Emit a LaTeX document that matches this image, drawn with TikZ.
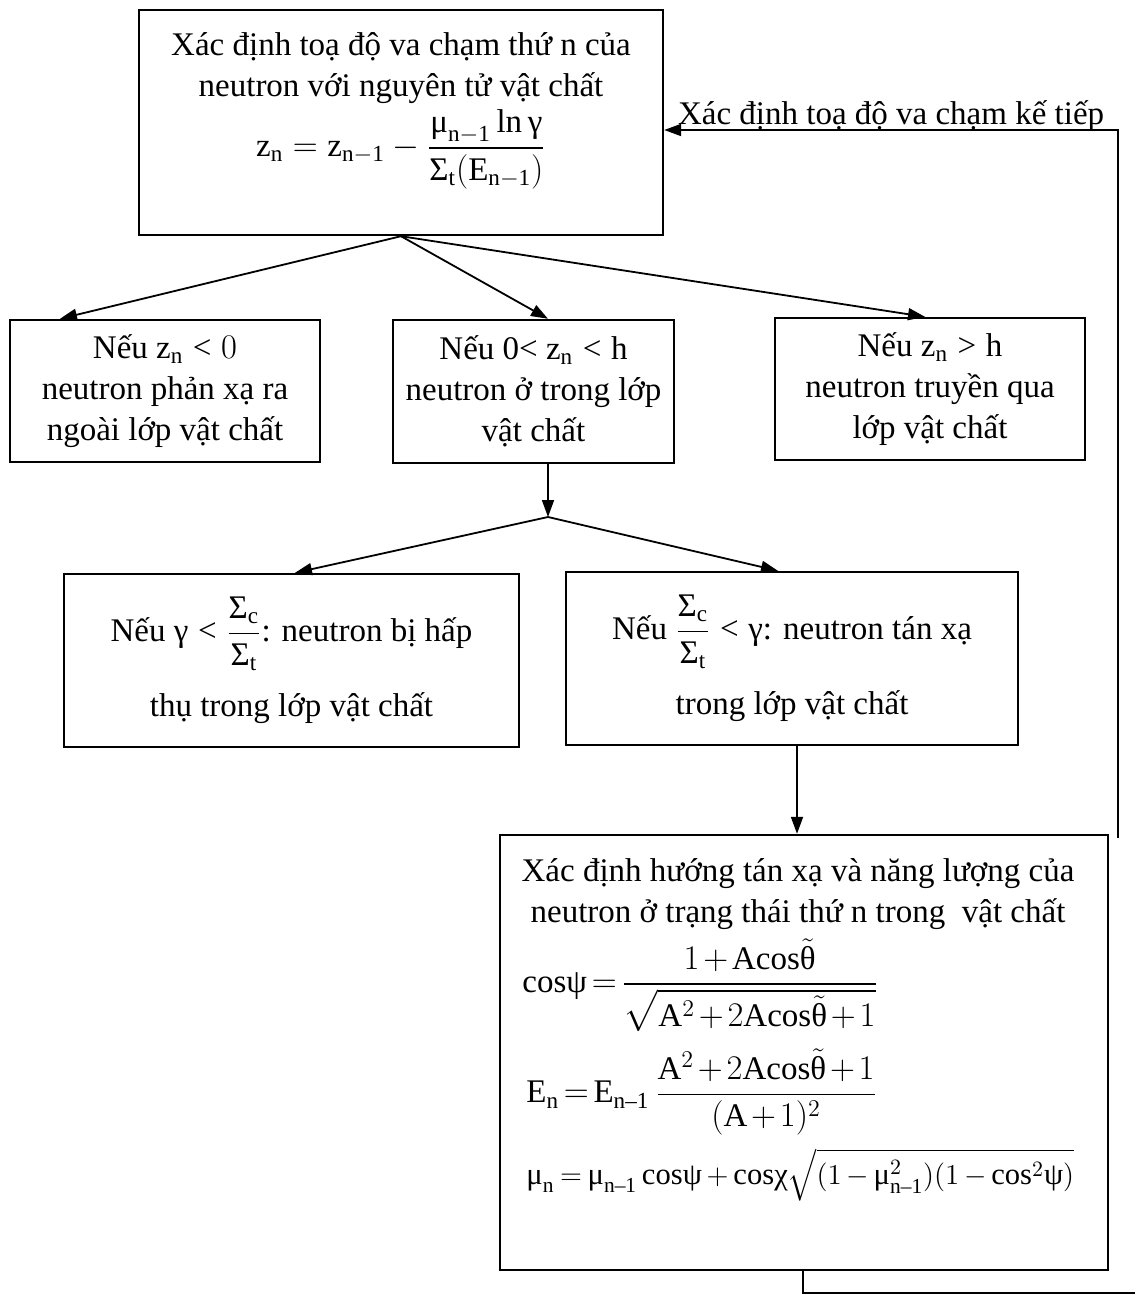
\documentclass[tikz,border=0pt]{standalone}
\usepackage{amsmath}
\usepackage{fontspec}
\setmainfont{Liberation Serif}
\usetikzlibrary{positioning,arrows.meta}

% digits, operators and relations taken from the text font
\DeclareSymbolFont{operators}{\encodingdefault}{\rmdefault}{m}{n}
\DeclareMathSymbol{<}{\mathrel}{operators}{`<}
\DeclareMathSymbol{>}{\mathrel}{operators}{`>}

% upright Greek taken from the text font
\newcommand{\gmu}{\text{μ}}
\newcommand{\ggam}{\text{γ}}
\newcommand{\gSig}{\text{Σ}}
\newcommand{\gpsi}{\text{ψ}}
\newcommand{\gchi}{\text{χ}}
\newcommand{\gth}{\text{θ}}
\newcommand{\tcos}{\mathrm{cos}}
\newcommand{\nmo}{\text{n–1}}

\begin{document}
\begin{tikzpicture}[x=0.5pt,y=-0.5pt]
  % Styles local to this figure.
  \tikzset{
    box/.style={draw,line width=1.2pt,align=center,inner sep=0pt,
      font=\fontsize{16.5}{20.5}\selectfont},
    txt/.style={inner sep=0pt,font=\fontsize{16.5}{20.5}\selectfont},
    link/.style={line width=0.9pt,-{Triangle[length=8.5pt,width=6pt]}},
    wire/.style={line width=0.9pt}
  }
  \useasboundingbox (0,0) rectangle (1135,1295);

  % Collision point box.
  \node[box,minimum width=262pt,minimum height=112.5pt] (collide) at (401,122.5) {};
  \node[txt,align=center] (collidetxt) at (401,111)
    {Xác định toạ độ va chạm thứ n của\\
     neutron với nguyên tử vật chất\\[2pt]
     $\mathrm{z_n = z_{n-1}} - \dfrac{\gmu_{\mathrm{n-1}}\ln\ggam}{\gSig_{\mathrm{t}}(\mathrm{E_{n-1}})}$};

  % Three position cases.
  \node[box,minimum width=155pt,minimum height=71pt] (reflect) at (165,391)
    {Nếu $\mathrm{z_n} < 0$\\ neutron phản xạ ra\\ ngoài lớp vật chất};
  \node[box,minimum width=140.5pt,minimum height=71.5pt] (inside) at (533.5,391.5)
    {Nếu 0< $\mathrm{z_n} < \mathrm{h}$\\ neutron ở trong lớp\\ vật chất};
  \node[box,minimum width=155pt,minimum height=71pt] (transmit) at (930,389)
    {Nếu $\mathrm{z_n} > \mathrm{h}$\\ neutron truyền qua\\ lớp vật chất};

  \draw[link] (collide.south) -- (60,0 |- reflect.north);
  \draw[link] (collide.south) -- (548,0 |- inside.north);
  \draw[link] (collide.south) -- (925,0 |- transmit.north);

  % Absorption or scattering.
  \coordinate (split) at (548,517);
  \node[box,minimum width=227.5pt,minimum height=86.5pt] (absorb) at (291.5,660.5)
    {Nếu $\ggam < \dfrac{\gSig_{\mathrm{c}}}{\gSig_{\mathrm{t}}}$: neutron bị hấp\\[10pt]
     thụ trong lớp vật chất};
  \node[box,minimum width=226pt,minimum height=86.5pt] (scatter) at (792,658.5)
    {Nếu $\dfrac{\gSig_{\mathrm{c}}}{\gSig_{\mathrm{t}}} < \ggam$: neutron tán xạ\\[10pt]
     trong lớp vật chất};

  \draw[link] (548,0 |- inside.south) -- (split);
  \draw[link] (split) -- (295,0 |- absorb.north);
  \draw[link] (split) -- (778,0 |- scatter.north);

  % New direction and energy.
  \node[box,minimum width=304pt,minimum height=217.5pt] (direction) at (804,1052.5) {};
  \node[txt,align=center] (dirtitle) at (798,894)
    {Xác định hướng tán xạ và năng lượng của\\
     neutron ở trạng thái thứ n trong\ \ vật chất};
  \begin{scope}[every node/.append style={execute at begin node={\medmuskip=2mu\thickmuskip=2.5mu}}]
  \node[txt,anchor=west] (cospsi) at (522,985)
    {$\tcos\gpsi = \dfrac{1+\mathrm{A}\tcos\tilde{\gth}}{\sqrt{\mathrm{A}^2+2\mathrm{A}\tcos\tilde{\gth}+1}}$};
  \node[txt,anchor=west] (energy) at (526,1092)
    {$\mathrm{E}_{\mathrm{n}} = \mathrm{E}_{\nmo}\,\dfrac{\mathrm{A}^2+2\mathrm{A}\tcos\tilde{\gth}+1}{(\mathrm{A}+1)^2}$};
  \node[txt,anchor=west,font=\fontsize{15.3}{19}\selectfont] (mucos) at (526,1175)
    {$\medmuskip=3mu\thickmuskip=3.5mu\gmu_{\mathrm{n}} = \gmu_{\nmo}\,\tcos\gpsi + \tcos\gchi\sqrt{(1-\gmu_{\nmo}^2)(1-\tcos^2\gpsi)}$};
  \end{scope}

  \draw[link] (797,0 |- scatter.south) -- (797,0 |- direction.north);

  % Feedback to the next collision.
  \coordinate (loopT) at (1118,130);
  \coordinate (loopD) at (1118,838);
  \coordinate (outB) at (803,1293);
  \coordinate (outE) at (1135,1293);
  \draw[link] (loopD) -- (loopT) -- (collide.east |- loopT)
    node[midway,anchor=base,yshift=2.5pt,txt] (next) {Xác định toạ độ va chạm kế tiếp};
  \draw[wire] (803,0 |- direction.south) -- (outB) -- (outE);
\end{tikzpicture}
\end{document}
